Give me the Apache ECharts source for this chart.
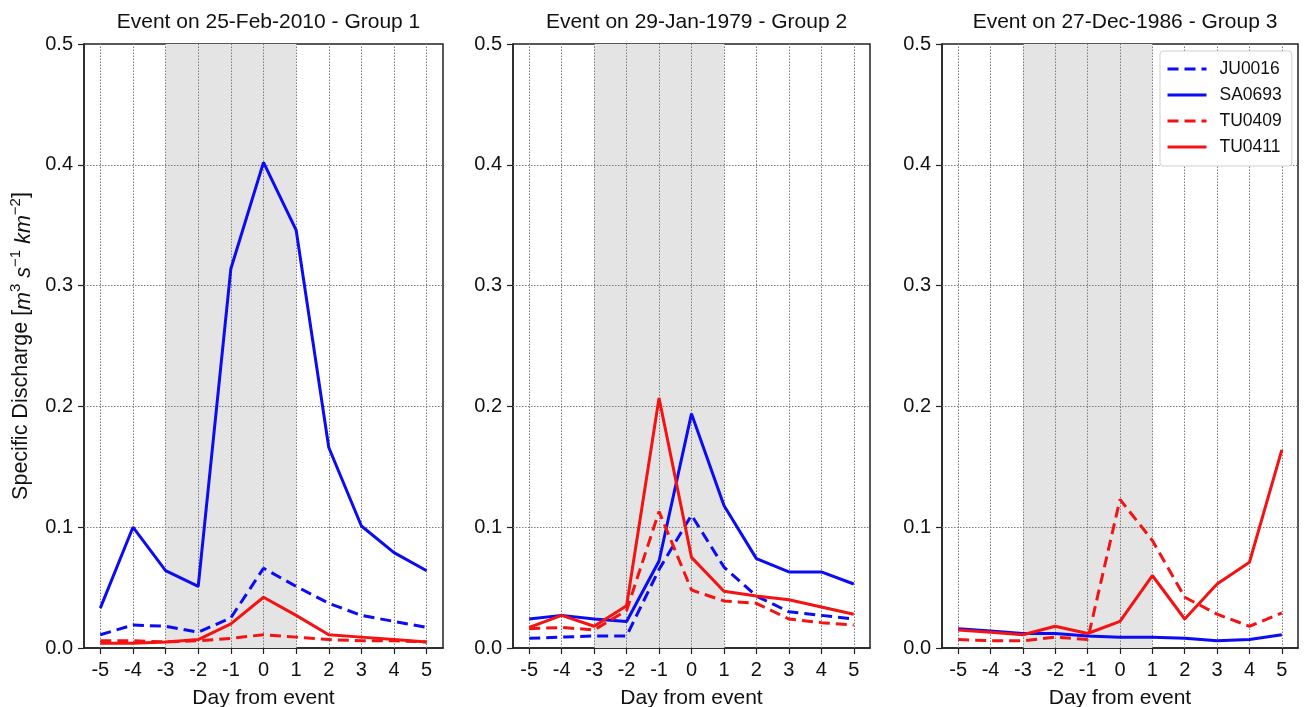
<!DOCTYPE html>
<html>
<head>
<meta charset="utf-8">
<script src="https://cdn.jsdelivr.net/npm/echarts@6/dist/echarts.min.js"></script>
<style>
html,body{margin:0;padding:0;background:#fff;}
#chart{width:1304px;height:707px;}
</style>
</head>
<body>
<div id="chart"></div>
<script>
// ---- data ----
const days = ['-5','-4','-3','-2','-1','0','1','2','3','4','5'];
const yTickValues = [0.0, 0.1, 0.2, 0.3, 0.4, 0.5];
const panelTitles = ['Event on 25-Feb-2010 - Group 1', 'Event on 29-Jan-1979 - Group 2', 'Event on 27-Dec-1986 - Group 3'];
const stations = ['JU0016', 'SA0693', 'TU0409', 'TU0411'];
const shadeFrom = '-3';
const shadeTo = '1';

// Group 1
const g1_JU0016 = [0.011, 0.019, 0.018, 0.013, 0.025, 0.066, 0.051, 0.037, 0.027, 0.022, 0.017];
const g1_SA0693 = [0.033, 0.100, 0.064, 0.051, 0.314, 0.402, 0.346, 0.166, 0.101, 0.079, 0.064];
const g1_TU0409 = [0.006, 0.006, 0.005, 0.006, 0.008, 0.011, 0.009, 0.007, 0.006, 0.006, 0.005];
const g1_TU0411 = [0.004, 0.004, 0.005, 0.007, 0.020, 0.042, 0.027, 0.011, 0.009, 0.007, 0.005];
// Group 2
const g2_JU0016 = [0.008, 0.009, 0.010, 0.010, 0.065, 0.110, 0.067, 0.043, 0.030, 0.027, 0.024];
const g2_SA0693 = [0.024, 0.027, 0.024, 0.022, 0.072, 0.194, 0.118, 0.074, 0.063, 0.063, 0.053];
const g2_TU0409 = [0.016, 0.017, 0.015, 0.031, 0.113, 0.048, 0.039, 0.037, 0.024, 0.021, 0.019];
const g2_TU0411 = [0.017, 0.027, 0.018, 0.035, 0.207, 0.075, 0.047, 0.043, 0.040, 0.034, 0.028];
// Group 3 (JU0016 not shown)
const g3_SA0693 = [0.016, 0.014, 0.012, 0.012, 0.010, 0.009, 0.009, 0.008, 0.006, 0.007, 0.011];
const g3_TU0409 = [0.007, 0.006, 0.006, 0.009, 0.007, 0.123, 0.089, 0.042, 0.028, 0.018, 0.029];
const g3_TU0411 = [0.015, 0.013, 0.011, 0.018, 0.012, 0.022, 0.060, 0.024, 0.053, 0.071, 0.164];

const panels = [
  {JU0016: g1_JU0016, SA0693: g1_SA0693, TU0409: g1_TU0409, TU0411: g1_TU0411},
  {JU0016: g2_JU0016, SA0693: g2_SA0693, TU0409: g2_TU0409, TU0411: g2_TU0411},
  {SA0693: g3_SA0693, TU0409: g3_TU0409, TU0411: g3_TU0411}
];

const styleOf = {
  JU0016: {color: '#0b0bf5', type: [11, 6]},
  SA0693: {color: '#0b0bf5', type: 'solid'},
  TU0409: {color: '#f51212', type: [11, 6]},
  TU0411: {color: '#f51212', type: 'solid'}
};

const FONT = '"Liberation Sans", Arial, Helvetica, sans-serif';
const gridBoxes = [
  {left: 84, top: 44, width: 359, height: 604},
  {left: 513, top: 44, width: 357, height: 604},
  {left: 942, top: 44, width: 356, height: 604}
];

const grids = [], xAxes = [], yAxes = [], series = [], titles = [];
gridBoxes.forEach((g, i) => {
  grids.push(Object.assign({show: true, borderColor: '#222', borderWidth: 1.5, backgroundColor: '#fff',
    containLabel: false, outerBoundsMode: 'none'}, g));
  titles.push({
    text: panelTitles[i], left: g.left + g.width / 2, top: 7, textAlign: 'center',
    textStyle: {fontFamily: FONT, fontSize: 21, fontWeight: 'normal', color: '#111'}
  });
  xAxes.push({
    gridIndex: i, type: 'category', data: days, boundaryGap: true,
    axisLine: {show: true, lineStyle: {color: '#222', width: 1.5}},
    axisTick: {show: true, alignWithLabel: true, length: 6, lineStyle: {color: '#222', width: 1.2}},
    axisLabel: {fontFamily: FONT, fontSize: 20, color: '#111', margin: 12},
    splitLine: {show: false},
    name: 'Day from event', nameLocation: 'middle', nameGap: 40,
    nameTextStyle: {fontFamily: FONT, fontSize: 21, color: '#111'}
  });
  const ya = {
    gridIndex: i, type: 'value', min: 0, max: 0.5, interval: 0.1,
    axisLine: {show: true, lineStyle: {color: '#222', width: 1.5}},
    axisTick: {show: true, length: 6, lineStyle: {color: '#222', width: 1.2}},
    axisLabel: {fontFamily: FONT, fontSize: 20, color: '#111', margin: 11, formatter: v => v.toFixed(1)},
    splitLine: {show: false}
  };
  if (i === 0) {
    ya.name = 'Specific Discharge [{i|m}{s|3}{i| s}{s|−1}{i| km}{s|−2}]';
    ya.nameLocation = 'middle';
    ya.nameRotate = 90;
    ya.nameGap = 49;
    ya.nameTextStyle = {
      fontFamily: FONT, fontSize: 21.5, color: '#111', lineHeight: 27, verticalAlign: 'bottom',
      rich: {
        i: {fontFamily: FONT, fontSize: 21.5, fontStyle: 'italic', color: '#111', lineHeight: 27, verticalAlign: 'bottom'},
        s: {fontFamily: FONT, fontSize: 15, color: '#111', lineHeight: 15, verticalAlign: 'top'}
      }
    };
  }
  yAxes.push(ya);

  // shading
  series.push({
    type: 'line', xAxisIndex: i, yAxisIndex: i, data: [], silent: true, z: 1,
    markArea: {silent: true, z: 1, itemStyle: {color: '#e4e4e4'},
      data: [[{xAxis: shadeFrom}, {xAxis: shadeTo}]]}
  });
  // grid lines
  const gl = days.map(d => ({xAxis: d})).concat(yTickValues.slice(1, -1).map(v => ({yAxis: v})));
  series.push({
    type: 'line', xAxisIndex: i, yAxisIndex: i, data: [], silent: true, z: 2,
    markLine: {silent: true, z: 2, symbol: ['none', 'none'], label: {show: false}, animation: false,
      lineStyle: {type: [1.5, 1.5], color: '#7a7a7a', width: 1}, emphasis: {disabled: true},
      data: gl}
  });
  stations.forEach(st => {
    if (!panels[i][st]) return;
    series.push({
      name: st, type: 'line', xAxisIndex: i, yAxisIndex: i, data: panels[i][st],
      showSymbol: false, symbol: 'none', z: 3, animation: false,
      lineStyle: {color: styleOf[st].color, width: 3, type: styleOf[st].type},
      itemStyle: {color: styleOf[st].color}
    });
  });
});

const chart = echarts.init(document.getElementById('chart'), null, {renderer: 'canvas'});
chart.setOption({
  animation: false,
  backgroundColor: '#fff',
  title: titles,
  grid: grids,
  xAxis: xAxes,
  yAxis: yAxes,
  legend: {
    data: stations, orient: 'vertical', left: 1160, top: 51,
    itemWidth: 39, itemHeight: 14, itemGap: 8,
    padding: [9, 10, 10, 6],
    itemStyle: {opacity: 0},
    lineStyle: {width: 3},
    borderColor: '#cfcfcf', borderWidth: 1, borderRadius: 3, backgroundColor: '#fff',
    textStyle: {fontFamily: FONT, fontSize: 17.5, color: '#111', padding: [0, 0, 0, 8]}
  },
  series: series
});
</script>
</body>
</html>
